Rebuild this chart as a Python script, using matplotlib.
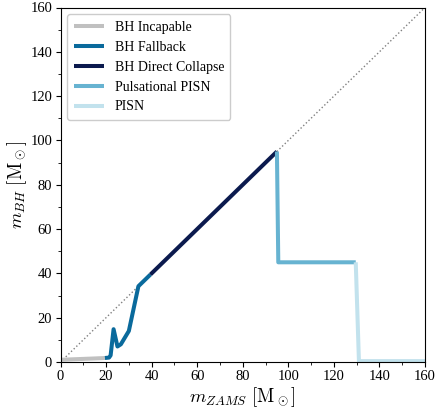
import matplotlib
matplotlib.use("Agg")
import matplotlib.pyplot as plt
from matplotlib.ticker import MultipleLocator

plt.rcParams['font.family'] = ['Liberation Serif', 'DejaVu Serif']
plt.rcParams['mathtext.fontset'] = 'cm'

# Data
incap_x = [0, 5, 10, 15, 19.5]
incap_y = [1.0, 1.2, 1.4, 1.6, 1.8]
fall_x = [19.5, 21.3, 22.0, 23.3, 25.0, 26.5, 30.0, 34.2, 39.5]
fall_y = [1.8, 2.0, 3.0, 14.8, 7.0, 8.0, 14.0, 34.2, 39.5]
dc_x = [39.5, 95.0]
dc_y = [39.5, 95.0]
ppisn_x = [95.0, 95.6, 129.6]
ppisn_y = [95.0, 45.0, 45.0]
pisn_x = [129.6, 131.0, 160.0]
pisn_y = [45.0, 0.4, 0.4]

labels = ["BH Incapable", "BH Fallback", "BH Direct Collapse", "Pulsational PISN", "PISN"]
colors = ["#c0c0c0", "#0a6a9c", "#0b1a4e", "#67b3d1", "#c2e2ed"]

fig = plt.figure(figsize=(4.42, 4.07), dpi=100)
ax = fig.add_axes([60.5/442, 1 - 362/407, (425-60.5)/442, (362-7.5)/407])

ax.plot([0, 160], [0, 160], ls=':', color='gray', lw=1.0, zorder=1)
for xs, ys, lab, c in zip([incap_x, fall_x, dc_x, ppisn_x, pisn_x],
                          [incap_y, fall_y, dc_y, ppisn_y, pisn_y], labels, colors):
    ax.plot(xs, ys, color=c, lw=2.9, label=lab, zorder=2, solid_capstyle='butt')

ax.set_xlim(0, 160)
ax.set_ylim(0, 160)
ax.xaxis.set_major_locator(MultipleLocator(20))
ax.yaxis.set_major_locator(MultipleLocator(20))
ax.xaxis.set_minor_locator(MultipleLocator(10))
ax.yaxis.set_minor_locator(MultipleLocator(10))
ax.tick_params(which='major', length=3.5, width=0.8, labelsize=10.5, pad=2.5)
ax.tick_params(which='minor', length=2, width=0.6)
ax.set_xlabel(r'$m_{ZAMS}\ [\mathrm{M}_\odot]$', fontsize=13.5, labelpad=1)
ax.set_ylabel(r'$m_{BH}\ [\mathrm{M}_\odot]$', fontsize=13.5, labelpad=1)

leg = ax.legend(loc='upper left', fontsize=10, handlelength=2.2, handletextpad=0.75,
                labelspacing=0.5, borderpad=0.45, framealpha=1.0, edgecolor='#cccccc',
                borderaxespad=0.5)

fig.savefig('out.png', dpi=100)
